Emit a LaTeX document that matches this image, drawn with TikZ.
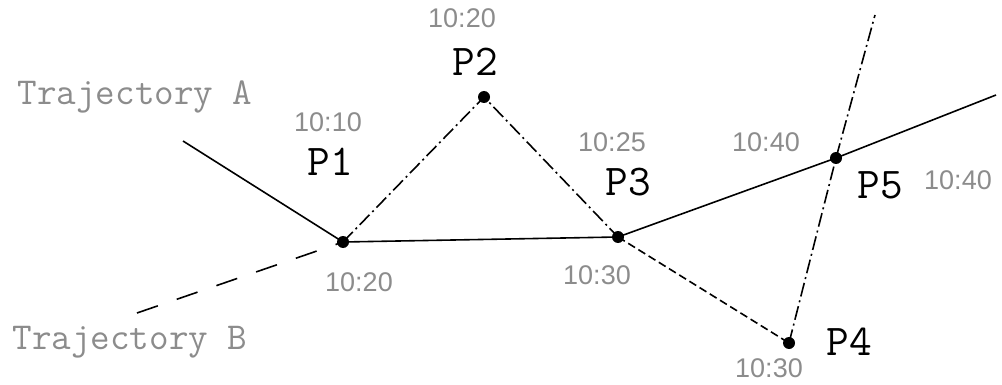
\documentclass[tikz,border=0pt]{standalone}
\usepackage{fontspec}
\setmainfont{Liberation Sans}
\usepackage{tikz}
\usetikzlibrary{positioning}
\definecolor{timegray}{RGB}{140,140,140}

\tikzset{
  meet/.style={circle, fill=black, inner sep=0pt, minimum size=12pt},
  ptlabel/.style={font=\ttfamily\fontsize{44}{44}\selectfont, inner sep=0pt},
  trajlabel/.style={font=\ttfamily\fontsize{38}{38}\selectfont, text=timegray, inner sep=0pt},
  timelabel/.style={font=\fontsize{27}{27}\selectfont, text=timegray, inner sep=0pt},
  trajA/.style={line width=1.6pt},
  trajB/.style={line width=1.6pt, dash pattern=on 14pt off 4pt on 2pt off 4pt},
  trajBdash/.style={line width=1.6pt, dash pattern=on 8pt off 4pt},
}

\begin{document}
\begin{tikzpicture}[x=1pt, y=-1pt]
  \useasboundingbox (0,0) rectangle (1002,385);

  % crossing points
  \node[meet] (p1) at (343,242) {};
  \node[meet] (p2) at (484,97) {};
  \node[meet] (p3) at (618,237) {};
  \node[meet] (p4) at (789,343) {};
  \node[meet] (p5) at (836,158) {};

  % free ends of the two trajectories
  \coordinate (aStart) at (183,141);
  \coordinate (aEnd) at (996,95);
  \coordinate (bStart) at (137,313);
  \coordinate (bEnd) at (875,15);

  % trajectory A
  \draw[trajA] (aStart) -- (p1.center) -- (p3.center) -- (p5.center) -- (aEnd);

  % trajectory B
  \draw[trajBdash, dash pattern=on 22pt off 20pt] (bStart) -- (p1.center);
  \draw[trajB] (p1.center) -- (p2.center) -- (p3.center);
  \draw[trajBdash] (p3.center) -- (p4.center);
  \draw[trajB] (p4.center) -- (p5.center) -- (bEnd);

  % trajectory names
  \node[trajlabel] (nameA) at (135,97) {Trajectory A};
  \node[trajlabel] (nameB) at (130,342) {Trajectory B};

  % point names
  \node[ptlabel] (l1) at (330,162) {P1};
  \node[ptlabel] (l2) at (475,62) {P2};
  \node[ptlabel] (l3) at (628,182) {P3};
  \node[ptlabel] (l4) at (849,342) {P4};
  \node[ptlabel] (l5) at (880,185) {P5};

  % times
  \node[timelabel] (t1a) at (328,122) {10:10};
  \node[timelabel] (t1b) at (359,282) {10:20};
  \node[timelabel] (t2) at (462,18) {10:20};
  \node[timelabel] (t3a) at (612,142) {10:25};
  \node[timelabel] (t3b) at (597,275) {10:30};
  \node[timelabel] (t4) at (769,368) {10:30};
  \node[timelabel] (t5a) at (766,142) {10:40};
  \node[timelabel] (t5b) at (958,180) {10:40};
\end{tikzpicture}
\end{document}
